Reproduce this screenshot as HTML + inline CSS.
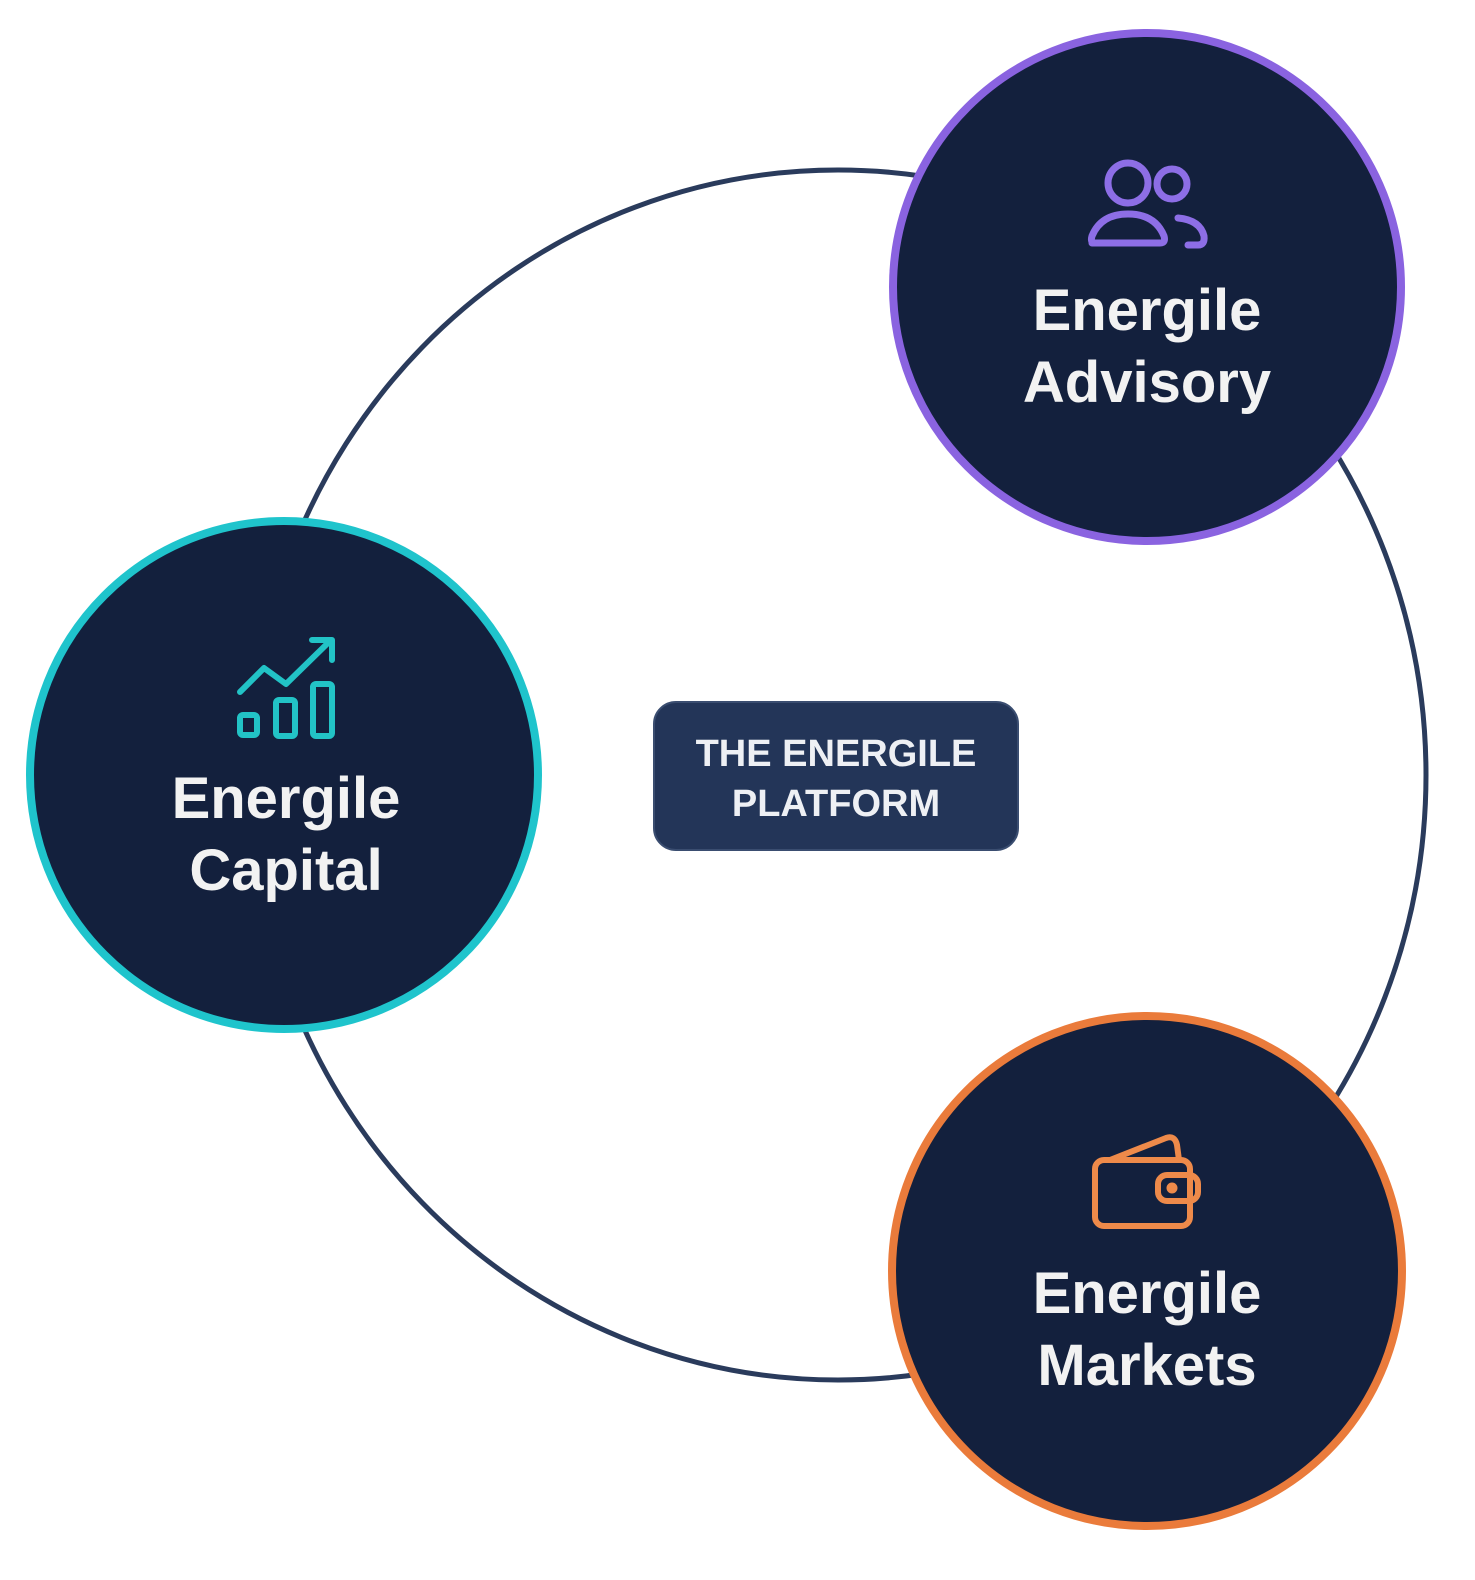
<!DOCTYPE html>
<html><head><meta charset="utf-8"><style>
html,body{margin:0;padding:0;background:#fff;}
svg{display:block}
</style></head><body>
<svg width="1475" height="1580" viewBox="0 0 1475 1580" xmlns="http://www.w3.org/2000/svg">
<ellipse cx="838" cy="775" rx="588" ry="605" fill="none" stroke="#2a3b5c" stroke-width="5"/>
<!-- Advisory -->
<circle cx="1147" cy="287" r="254" fill="#13203d" stroke="#8a63e0" stroke-width="8"/>
<g fill="none" stroke="#8d6ee6" stroke-width="7" stroke-linecap="round" stroke-linejoin="round">
<circle cx="1128" cy="183" r="20"/>
<circle cx="1172" cy="184" r="15"/>
<path d="M1092 243 L1160 243 Q1166 243 1164 236 Q1155 214 1128 214 Q1101 214 1092 236 Q1090 243 1095 243"/>
<path d="M1178 218 Q1200 220 1204 236 Q1205 245 1198 245 L1188 245"/>
</g>
<text x="1147" y="330" font-family="Liberation Sans, sans-serif" font-weight="bold" font-size="58" fill="#f2f2f2" text-anchor="middle">Energile</text>
<text x="1147" y="402" font-family="Liberation Sans, sans-serif" font-weight="bold" font-size="58" fill="#f2f2f2" text-anchor="middle">Advisory</text>
<!-- Capital -->
<circle cx="284" cy="775" r="254" fill="#13203d" stroke="#1fc4cc" stroke-width="8"/>
<g fill="none" stroke="#22c3c6" stroke-width="6" stroke-linecap="round" stroke-linejoin="round">
<rect x="240" y="715" width="17" height="20" rx="3"/>
<rect x="276" y="700" width="19" height="36" rx="3"/>
<rect x="313" y="684" width="19" height="52" rx="3"/>
<path d="M240 692 L264 668 L286 684 L331 640"/>
<path d="M312 640 L332 640 L332 660"/>
</g>
<text x="286" y="818" font-family="Liberation Sans, sans-serif" font-weight="bold" font-size="58" fill="#f2f2f2" text-anchor="middle">Energile</text>
<text x="286" y="890" font-family="Liberation Sans, sans-serif" font-weight="bold" font-size="58" fill="#f2f2f2" text-anchor="middle">Capital</text>
<!-- Markets -->
<circle cx="1147" cy="1271" r="255" fill="#13203d" stroke="#ea7b3b" stroke-width="8"/>
<g fill="none" stroke="#ee8a4a" stroke-width="6" stroke-linecap="round" stroke-linejoin="round">
<rect x="1095" y="1160" width="95" height="66" rx="9"/>
<path d="M1110 1160 L1166 1138 Q1175 1135 1177 1145 L1179 1160"/>
<rect x="1158" y="1175" width="40" height="26" rx="9"/>
<circle cx="1172" cy="1188" r="2.5" fill="#ee8a4a"/>
</g>
<text x="1147" y="1313" font-family="Liberation Sans, sans-serif" font-weight="bold" font-size="58" fill="#f2f2f2" text-anchor="middle">Energile</text>
<text x="1147" y="1385" font-family="Liberation Sans, sans-serif" font-weight="bold" font-size="58" fill="#f2f2f2" text-anchor="middle">Markets</text>
<!-- Platform -->
<rect x="654" y="702" width="364" height="148" rx="22" fill="#233558" stroke="#3a4d70" stroke-width="2"/>
<text x="836" y="766" font-family="Liberation Sans, sans-serif" font-weight="bold" font-size="38" fill="#eef0f4" text-anchor="middle">THE ENERGILE</text>
<text x="836" y="816" font-family="Liberation Sans, sans-serif" font-weight="bold" font-size="38" fill="#eef0f4" text-anchor="middle">PLATFORM</text>
</svg>
</body></html>
